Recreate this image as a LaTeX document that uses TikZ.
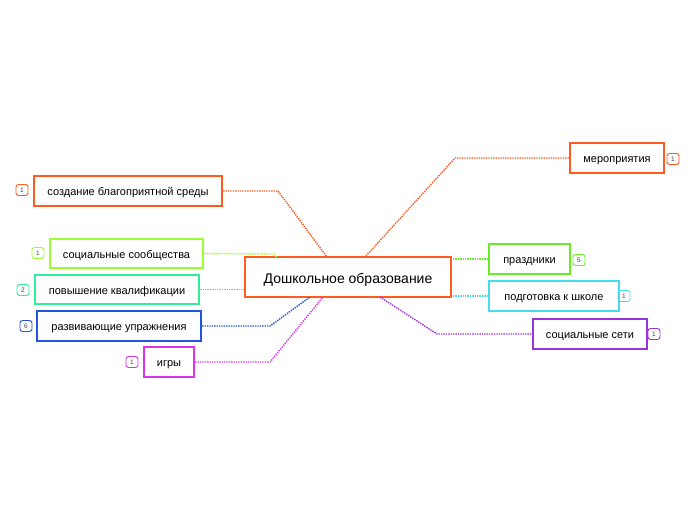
\documentclass[tikz,border=0pt]{standalone}
\usepackage{fontspec}
\setmainfont{Liberation Sans}
\usetikzlibrary{shadows}
\begin{document}
\begin{tikzpicture}[x=1pt,y=-1pt,
 box/.style={draw=#1,line width=2.2pt,fill=white,inner sep=0pt,font=\fontsize{11}{12}\selectfont,
   text height=10pt,text depth=0.5pt,
   drop shadow={shadow xshift=1.2pt,shadow yshift=-1.2pt,opacity=.25}},
 badge/.style={draw=#1,rounded corners=2.5pt,line width=0.9pt,minimum width=12pt,minimum height=11pt,inner sep=0pt,font=\fontsize{6.5}{7}\selectfont,text=black!75},
 con/.style={draw=#1,densely dotted,line width=1.4pt}]
\useasboundingbox (0,0) rectangle (696,520);
\definecolor{cor}{HTML}{FF5A1F}\definecolor{clime}{HTML}{99FF33}
\definecolor{cteal}{HTML}{33EE99}\definecolor{cblue}{HTML}{2255DD}
\definecolor{cmag}{HTML}{DD33EE}\definecolor{cgreen}{HTML}{66EE22}
\definecolor{ccyan}{HTML}{44DDEE}\definecolor{cpur}{HTML}{9933DD}
\coordinate (a1) at (278,191); \coordinate (a2) at (273,254);
\coordinate (a4) at (270,326); \coordinate (a5) at (270,362);
\coordinate (b1) at (455,158); \coordinate (b4) at (437,334);
\coordinate (e1) at (327,257); \coordinate (e2) at (277,257);
\coordinate (e4) at (310,297);
\coordinate (e5) at (323,297); \coordinate (f1) at (365,257);
\coordinate (f4) at (380,297);
\node[box=cor,minimum width=206pt,minimum height=40pt,font=\fontsize{14}{15}\selectfont,text height=13pt,text depth=0.5pt] (c) at (348,277) {Дошкольное образование};
\node[box=cor,minimum width=188pt,minimum height=30pt] (n1) at (128,191) {создание благоприятной среды};
\node[box=clime,minimum width=153pt,minimum height=29pt] (n2) at (126.5,253.5) {социальные сообщества};
\node[box=cteal,minimum width=164pt,minimum height=29pt] (n3) at (117,289.5) {повышение квалификации};
\node[box=cblue,minimum width=164pt,minimum height=30pt] (n4) at (119,326) {развивающие упражнения};
\node[box=cmag,minimum width=50pt,minimum height=30pt] (n5) at (169,362) {игры};
\node[box=cor,minimum width=94pt,minimum height=30pt] (m1) at (617,158) {мероприятия};
\node[box=cgreen,minimum width=81pt,minimum height=30pt] (m2) at (529.5,259) {праздники};
\node[box=ccyan,minimum width=130pt,minimum height=30pt] (m3) at (554,296) {подготовка к школе};
\node[box=cpur,minimum width=114pt,minimum height=30pt] (m4) at (590,334) {социальные сети};
\draw[con=cor] (n1.east) -- (a1) -- (e1);
\draw[con=clime] (n2.east) -- (a2) -- (e2);
\draw[con=cteal] (n3.east) -- (c.west |- n3.east);
\draw[con=cblue] (n4.east) -- (a4) -- (e4);
\draw[con=cmag] (n5.east) -- (a5) -- (e5);
\draw[con=cor] (m1.west) -- (b1) -- (f1);
\draw[con=cgreen] (m2.west) -- (c.east |- m2.west);
\draw[con=ccyan] (m3.west) -- (c.east |- m3.west);
\draw[con=cpur] (f4) -- (b4) -- (m4.west);
\node[badge=cor] (g1) at (22,190) {1};
\node[badge=clime] (g2) at (38,253) {1};
\node[badge=cteal] (g3) at (23,290) {2};
\node[badge=cblue] (g4) at (26,326) {6};
\node[badge=cmag] (g5) at (132,362) {1};
\node[badge=cor] (h1) at (673,159) {1};
\node[badge=cgreen] (h2) at (579,260) {5};
\node[badge=ccyan] (h3) at (624,296) {1};
\node[badge=cpur] (h4) at (654,334) {1};
\end{tikzpicture}
\end{document}
